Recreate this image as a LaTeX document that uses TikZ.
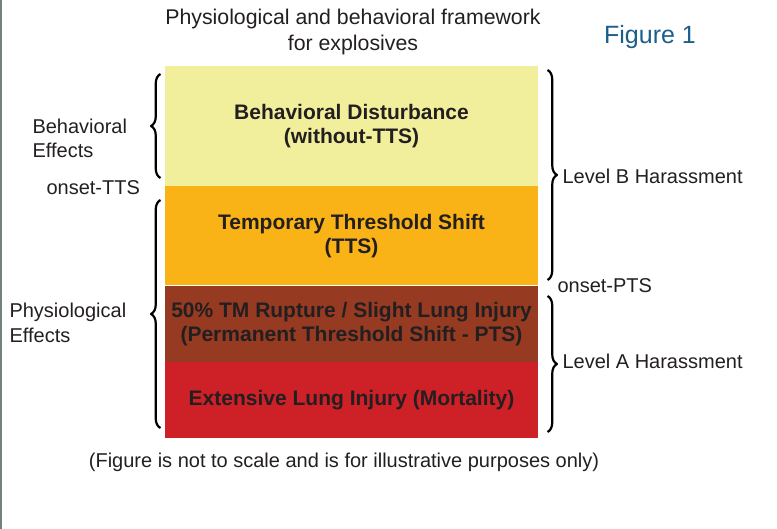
\documentclass[tikz,border=0pt]{standalone}
\usepackage{fontspec}
\setmainfont{Liberation Sans}
\usetikzlibrary{decorations.pathreplacing}
\definecolor{ink}{HTML}{231F20}
\definecolor{figblue}{HTML}{1B5E8A}
\definecolor{edgegrey}{HTML}{72827F}
\definecolor{behavfill}{HTML}{F2EF9C}
\definecolor{ttsfill}{HTML}{F9B317}
\definecolor{ptsfill}{HTML}{963A22}
\definecolor{lungfill}{HTML}{CE2027}

\begin{document}
\begin{tikzpicture}[x=1pt, y=-1pt, line join=round,
    every node/.style={text=ink, font=\fontsize{20}{25}\selectfont},
    zone/.style={anchor=north west, inner sep=0pt, outer sep=0pt, minimum width=373pt,
        align=center, font=\fontsize{21}{24}\selectfont\bfseries},
    bracebar/.style={decorate, decoration={brace, amplitude=9.5pt}, line width=2.2pt}]
    \useasboundingbox (0,0) rectangle (777,529);
    \fill[edgegrey] (0,0) rectangle (2,529);

    % Stufen des Rahmens
    \node[zone, fill=behavfill, minimum height=120pt] (behav) at (165,66) {Behavioral Disturbance\\(without-TTS)};
    \node[zone, fill=ttsfill, minimum height=100pt] (tts) at (behav.south west) {Temporary Threshold Shift\\(TTS)};
    \node[zone, fill=ptsfill, minimum height=76pt] (pts) at (tts.south west) {50\% TM Rupture / Slight Lung Injury\\(Permanent Threshold Shift - PTS)};
    \node[zone, fill=lungfill, minimum height=76pt] (lung) at (pts.south west) {Extensive Lung Injury (Mortality)};
    \draw[white, line width=1pt] (tts.south west) -- (tts.south east);

    % Titel
    \node[align=center, font=\fontsize{21.3}{26}\selectfont] (title) at (353,32) {Physiological and behavioral framework\\for explosives};
    \node[text=figblue, font=\fontsize{25}{29}\selectfont] (fig) at (650,37) {Figure 1};

    % Klammern links
    \coordinate (L1) at (160.5,178);
    \coordinate (L2) at (160.5,74);
    \coordinate (L3) at (160.5,428);
    \coordinate (L4) at (160.5,200);
    \draw[bracebar] (L1) -- (L2);
    \draw[bracebar] (L3) -- (L4);

    % Klammern rechts
    \coordinate (R1) at (547.5,70);
    \coordinate (R2) at (547.5,280);
    \coordinate (R3) at (547.5,296);
    \coordinate (R4) at (547.5,432);
    \draw[bracebar] (R1) -- (R2);
    \draw[bracebar] (R3) -- (R4);

    \node[anchor=west, align=left, font=\fontsize{20}{24}\selectfont] (behlbl) at (29,138) {Behavioral\\Effects};
    \node[anchor=west] (onsettts) at (43,188) {onset-TTS};
    \node[anchor=west, align=left, font=\fontsize{20}{25}\selectfont] (physlbl) at (6,323) {Physiological\\Effects};
    \node[anchor=west] (levelb) at (559,176) {Level B Harassment};
    \node[anchor=west] (onsetpts) at (554,286) {onset-PTS};
    \node[anchor=west] (levela) at (559,361) {Level A Harassment};

    \node (note) at (344,462) {(Figure is not to scale and is for illustrative purposes only)};
\end{tikzpicture}
\end{document}
